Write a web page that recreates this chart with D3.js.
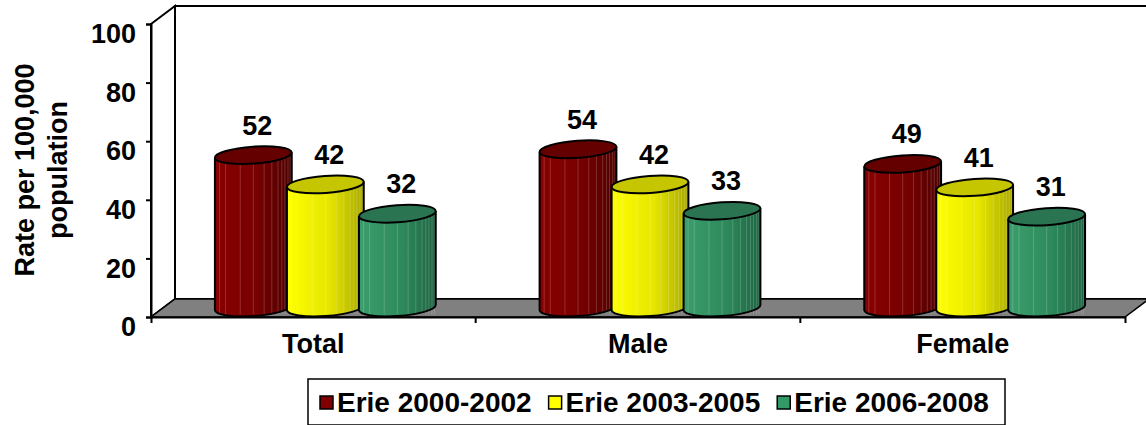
<!DOCTYPE html>
<html>
<head>
<meta charset="utf-8">
<script src="https://cdn.jsdelivr.net/npm/d3@7"></script>
<style>
  body { margin: 0; background: #fff; }
  svg { display: block; }
  text { font-family: "Liberation Sans", Arial, sans-serif; font-weight: bold; fill: #000; }
</style>
</head>
<body>
<div class="chart"></div>
<script>
var width = 1146, height = 425;

var categories = ['Total', 'Male', 'Female'];
var seriesNames = ['Erie 2000-2002', 'Erie 2003-2005', 'Erie 2006-2008'];
var erie0002 = [52, 54, 49];
var erie0305 = [42, 42, 41];
var erie0608 = [32, 33, 31];
var yTicks = [0, 20, 40, 60, 80, 100];

var seriesValues = [erie0002, erie0305, erie0608];

// side colours: light edge, mid, dark edge, top
var colors = [
  { left: '#8a0000', mid: '#770000', right: '#4e0000', top: '#650000', key: '#800000' },
  { left: '#ffff00', mid: '#e6e600', right: '#a9a900', top: '#c6c600', key: '#ffff00' },
  { left: '#3b9e6c', mid: '#2e8a5c', right: '#1f6543', top: '#2a7452', key: '#339966' }
];

var depthX = 24, depthY = -18;
var font = '"Liberation Sans", Arial, sans-serif';

var svg = d3.select('.chart').append('svg')
  .attr('width', width)
  .attr('height', height);

var defs = svg.append('defs');
colors.forEach(function (c, i) {
  var grad = defs.append('linearGradient')
    .attr('id', 'cyl' + i)
    .attr('x1', 0).attr('x2', 1).attr('y1', 0).attr('y2', 0);
  grad.append('stop').attr('offset', '0%').attr('stop-color', c.left);
  grad.append('stop').attr('offset', '55%').attr('stop-color', c.mid);
  grad.append('stop').attr('offset', '100%').attr('stop-color', c.right);
});

var x0 = d3.scaleBand()
  .domain(categories)
  .range([151, 1125]);

var x1 = d3.scaleBand()
  .domain(seriesNames)
  .range([-108, 108]);

var y = d3.scaleLinear()
  .domain([0, 100])
  .range([317, 24]);

var xL = x0.range()[0], xR = x0.range()[1];

// back wall
svg.append('rect')
  .attr('x', xL + depthX)
  .attr('y', y(100) + depthY)
  .attr('width', xR - xL + 40)
  .attr('height', y(0) - y(100))
  .style('fill', '#fff')
  .style('stroke', '#000')
  .style('stroke-width', 2);

// left side wall
svg.append('path')
  .attr('d', 'M' + xL + ',' + y(100) + 'L' + (xL + depthX) + ',' + (y(100) + depthY) +
    'L' + (xL + depthX) + ',' + (y(0) + depthY) + 'L' + xL + ',' + y(0) + 'Z')
  .style('fill', '#fff')
  .style('stroke', '#000')
  .style('stroke-width', 2);

// floor
svg.append('path')
  .attr('d', 'M' + xL + ',' + y(0) + 'L' + xR + ',' + y(0) +
    'L' + (xR + depthX) + ',' + (y(0) + depthY) + 'L' + (xL + depthX) + ',' + (y(0) + depthY) + 'Z')
  .style('fill', '#808080')
  .style('stroke', '#000')
  .style('stroke-width', 1.5);

// y axis
var yAxis = d3.axisLeft(y)
  .tickValues(yTicks)
  .tickSize(5)
  .tickPadding(10);

var gy = svg.append('g')
  .attr('transform', 'translate(' + xL + ',0)')
  .call(yAxis);
gy.select('.domain').style('stroke', '#000').style('stroke-width', 2);
gy.selectAll('.tick line').style('stroke', '#000').style('stroke-width', 2);
gy.selectAll('.tick text')
  .attr('y', 10)
  .style('font-size', '27px')
  .style('font-family', font)
  .style('font-weight', 'bold')
  .style('fill', '#000');

// x axis
var xAxis = d3.axisBottom(x0)
  .tickSizeInner(0)
  .tickSizeOuter(6)
  .tickPadding(17);

var gx = svg.append('g')
  .attr('transform', 'translate(0,' + y(0) + ')')
  .call(xAxis);
gx.select('.domain').style('stroke', '#000').style('stroke-width', 2);
gx.selectAll('.tick text')
  .style('font-size', '27px')
  .style('font-family', font)
  .style('font-weight', 'bold')
  .style('fill', '#000');

// boundary ticks between categories
gx.selectAll('.sep')
  .data(categories.slice(1))
  .enter().append('line')
  .attr('x1', function (d) { return x0(d); })
  .attr('x2', function (d) { return x0(d); })
  .attr('y1', 0)
  .attr('y2', 6)
  .style('stroke', '#000')
  .style('stroke-width', 2);

// cylinders
var rx = 38.5, ry = 8.5, tilt = -4;
var tr = tilt * Math.PI / 180;
var ex = rx * Math.cos(tr), ey = rx * Math.sin(tr);
var stripes = [0.06, 0.14, 0.33, 0.5, 0.64, 0.74, 0.82, 0.87, 0.91, 0.95, 0.98];

var cyl = [];
categories.forEach(function (c, ci) {
  seriesNames.forEach(function (s, si) {
    cyl.push({ cat: c, series: s, si: si, value: seriesValues[si][ci] });
  });
});

var gc = svg.append('g');
var bars = gc.selectAll('.cyl')
  .data(cyl)
  .enter().append('g')
  .attr('class', 'cyl');

bars.each(function (d) {
  var g = d3.select(this);
  var cx = x0(d.cat) + x0.bandwidth() / 2 + x1(d.series) + x1.bandwidth() / 2 + depthX / 2;
  var base = y(0) + depthY / 2 - 0.5;
  var top = y(d.value) + depthY / 2 - 0.5;
  var c = colors[d.si];

  g.append('path')
    .attr('d', 'M' + (cx - ex) + ',' + (top - ey) +
      'L' + (cx - ex) + ',' + (base - ey) +
      'A' + rx + ',' + ry + ' ' + tilt + ' 0 0 ' + (cx + ex) + ',' + (base + ey) +
      'L' + (cx + ex) + ',' + (top + ey) + 'Z')
    .style('fill', 'url(#cyl' + d.si + ')');

  g.selectAll('.stripe')
    .data(stripes)
    .enter().append('line')
    .attr('x1', function (f) { return cx - rx + f * 2 * rx; })
    .attr('x2', function (f) { return cx - rx + f * 2 * rx; })
    .attr('y1', top)
    .attr('y2', base + ry * 0.8)
    .style('stroke', '#fff')
    .style('stroke-opacity', 0.18)
    .style('stroke-width', 1);

  g.append('path')
    .attr('d', 'M' + (cx - ex) + ',' + (top - ey) +
      'L' + (cx - ex) + ',' + (base - ey) +
      'A' + rx + ',' + ry + ' ' + tilt + ' 0 0 ' + (cx + ex) + ',' + (base + ey) +
      'L' + (cx + ex) + ',' + (top + ey))
    .style('fill', 'none')
    .style('stroke', '#000')
    .style('stroke-width', 2);

  g.append('ellipse')
    .attr('cx', cx)
    .attr('cy', top)
    .attr('rx', rx)
    .attr('ry', ry)
    .attr('transform', 'rotate(' + tilt + ',' + cx + ',' + top + ')')
    .style('fill', c.top)
    .style('stroke', '#000')
    .style('stroke-width', 2);

  g.append('text')
    .attr('x', cx + 4)
    .attr('y', top - ry - 12)
    .attr('text-anchor', 'middle')
    .style('font-size', '27px')
    .text(d.value);
});

// y axis title
var yTitle = svg.append('text')
  .attr('transform', 'translate(0,170)rotate(-90)')
  .attr('text-anchor', 'middle')
  .style('font-size', '27px');
yTitle.append('tspan').attr('x', 0).attr('y', 34).text('Rate per 100,000');
yTitle.append('tspan').attr('x', 0).attr('y', 67).text('population');

// legend
var legend = svg.append('g');
legend.append('rect')
  .attr('x', 308)
  .attr('y', 379)
  .attr('width', 697)
  .attr('height', 46)
  .style('fill', '#fff')
  .style('stroke', '#000')
  .style('stroke-width', 1.5);

var lx = 320;
seriesNames.forEach(function (s, i) {
  legend.append('rect')
    .attr('x', lx)
    .attr('y', 396)
    .attr('width', 13)
    .attr('height', 13)
    .style('fill', colors[i].key)
    .style('stroke', '#000')
    .style('stroke-width', 1.5);
  var t = legend.append('text')
    .attr('x', lx + 17)
    .attr('y', 412)
    .style('font-size', '28px')
    .text(s);
  lx += 17 + t.node().getComputedTextLength() + 17;
});
</script>
</body>
</html>
